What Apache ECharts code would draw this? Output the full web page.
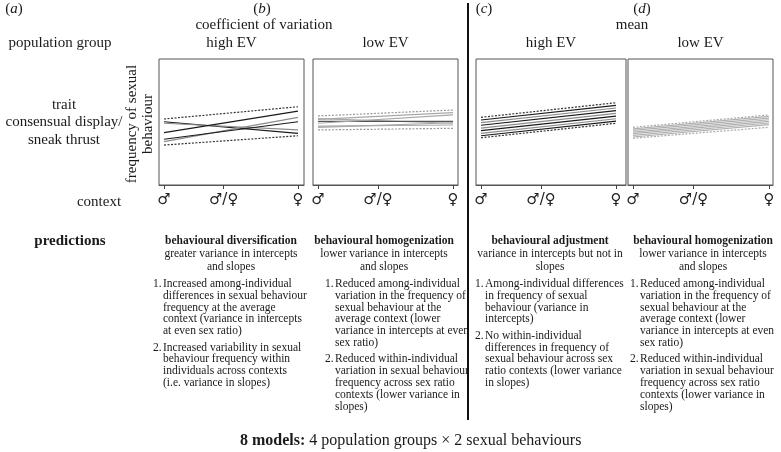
<!DOCTYPE html>
<html><head><meta charset="utf-8">
<script src="https://cdn.jsdelivr.net/npm/echarts@6/dist/echarts.min.js"></script>
<style>html,body{margin:0;padding:0;background:#fff}#c{width:781px;height:452px}</style>
</head><body><div id="c"></div>
<script>
// ---------- data ----------
const contexts = ['♂', '♂/♀', '♀'];
const contextValues = [0, 0.89, 2];
const panelLetters = ['a', 'b', 'c', 'd'];
const populationGroups = ['high EV', 'low EV', 'high EV', 'low EV'];
const measures = ['coefficient of variation', 'mean'];
const predictionTitles = ['behavioural diversification', 'behavioural homogenization', 'behavioural adjustment', 'behavioural homogenization'];
const predictionSubtitles = [
  ['greater variance in intercepts', 'and slopes'],
  ['lower variance in intercepts', 'and slopes'],
  ['variance in intercepts but not in', 'slopes'],
  ['lower variance in intercepts', 'and slopes']
];
const predictionItems = [
  [['Increased among-individual', 'differences in sexual behaviour', 'frequency at the average', 'context (variance in intercepts', 'at even sex ratio)'],
   ['Increased variability in sexual', 'behaviour frequency within', 'individuals across contexts', '(i.e. variance in slopes)']],
  [['Reduced among-individual', 'variation in the frequency of', 'sexual behaviour at the', 'average context (lower', 'variance in intercepts at even', 'sex ratio)'],
   ['Reduced within-individual', 'variation in sexual behaviour', 'frequency across sex ratio', 'contexts (lower variance in', 'slopes)']],
  [['Among-individual differences', 'in frequency of sexual', 'behaviour (variance in', 'intercepts)'],
   ['No within-individual', 'differences in frequency of', 'sexual behaviour across sex', 'ratio contexts (lower variance', 'in slopes)']],
  [['Reduced among-individual', 'variation in the frequency of', 'sexual behaviour at the', 'average context (lower', 'variance in intercepts at even', 'sex ratio)'],
   ['Reduced within-individual', 'variation in sexual behaviour', 'frequency across sex ratio', 'contexts (lower variance in', 'slopes)']]
];
// envelope lines [value at ♂, value at ♀]
const upperEnvelope = [[52.4, 62.1], [54.8, 59.5], [53.7, 65.3], [45.8, 55.6]];
const lowerEnvelope = [[31.7, 39.1], [43.7, 45.0], [37.5, 49.0], [37.1, 45.8]];
// individual reaction norms [value at ♂, value at ♀]
const panelAIndividuals = [[50.2, 41.0], [49.0, 43.7], [41.5, 58.7], [34.4, 53.7], [36.3, 50.2]];
const panelBIndividuals = [[52.6, 49.0], [50.5, 50.5], [52.1, 57.4], [49.0, 55.6], [46.8, 47.6], [45.8, 49.4]];
const panelCIndividuals = [[51.6, 63.2], [49.5, 61.1], [47.4, 59.0], [45.2, 56.8], [43.1, 54.7], [41.0, 52.6], [39.1, 50.7]];
const panelDIndividuals = [[44.6, 54.4], [43.3, 53.1], [42.0, 51.8], [40.7, 50.5], [39.4, 49.2], [38.1, 47.9]];
const individuals = [panelAIndividuals, panelBIndividuals, panelCIndividuals, panelDIndividuals];
const footerBold = '8 models:';
const footerText = ' 4 population groups × 2 sexual behaviours';

// ---------- layout / style ----------
const SERIF = '"Liberation Serif", "Times New Roman", serif';
const grids = [
  {left: 159, top: 59, width: 145, height: 126, min: -0.075, max: 2.09},
  {left: 313, top: 59, width: 145, height: 126, min: -0.074, max: 2.074},
  {left: 476, top: 59, width: 150, height: 126, min: -0.074, max: 2.148},
  {left: 628, top: 59, width: 145, height: 126, min: -0.074, max: 2.06}
];
const lineColors = [
  ['#1a1a1a', '#8c8c8c', '#1a1a1a', '#8c8c8c', '#1a1a1a'],
  ['#a8a8a8', '#555555', '#a8a8a8', '#a8a8a8', '#a8a8a8', '#a8a8a8'],
  ['#1a1a1a', '#8c8c8c', '#1a1a1a', '#8c8c8c', '#1a1a1a', '#8c8c8c', '#1a1a1a'],
  ['#b0b0b0', '#b0b0b0', '#b0b0b0', '#b0b0b0', '#b0b0b0', '#b0b0b0']
];
const envelopeColors = ['#333', '#999', '#333', '#aaa'];

const chart = echarts.init(document.getElementById('c'), null, {renderer: 'canvas'});
const series = [];
individuals.forEach((lines, p) => {
  const addLine = (pair, color, type, w) => series.push({
    type: 'line', xAxisIndex: p, yAxisIndex: p, symbol: 'none', silent: true, animation: false,
    data: [[contextValues[0], pair[0]], [contextValues[2], pair[1]]],
    lineStyle: {color: color, width: w, type: type}
  });
  lines.forEach((pair, i) => addLine(pair, lineColors[p][i], 'solid', 1.2));
  addLine(upperEnvelope[p], envelopeColors[p], [2, 1.5], 1.2);
  addLine(lowerEnvelope[p], envelopeColors[p], [2, 1.5], 1.2);
});

const labelMap = {};
contextValues.forEach((v, i) => labelMap[v] = contexts[i]);

const graphic = [];
function txt(text, x, y, opts) {
  graphic.push(Object.assign({type: 'text', x: x, y: y, silent: true,
    style: Object.assign({text: text, font: '15px ' + SERIF, fill: '#1a1a1a', textAlign: 'center', textVerticalAlign: 'middle'}, opts || {})}));
}
// panel letters
const letterPos = [[14, 9], [262, 9], [484, 9], [642, 9]];
panelLetters.forEach((l, i) => txt('({i|' + l + '})', letterPos[i][0], letterPos[i][1],
  {rich: {i: {fontStyle: 'italic', font: 'italic 15px ' + SERIF}}}));
txt(measures[0], 264, 25);
txt(measures[1], 632, 25);
txt('population group', 60, 43);
grids.forEach((g, i) => txt(populationGroups[i], g.left + g.width / 2, 43));
txt('trait', 64, 105);
txt('consensual display/', 64, 122);
txt('sneak thrust', 64, 140);
txt('context', 99, 202);
graphic.push({type: 'text', x: 140, y: 124, rotation: Math.PI / 2, silent: true,
  style: {text: 'frequency of sexual\nbehaviour', font: '15px ' + SERIF, fill: '#1a1a1a', textAlign: 'center', textVerticalAlign: 'middle', lineHeight: 16}});
txt('predictions', 70, 241, {font: 'bold 15px ' + SERIF});
// predictions columns
const colCenter = [231, 384, 550, 703];
const colNumX = [153, 325, 475, 630];
const F = '11.5px ' + SERIF;
predictionTitles.forEach((t, i) => {
  txt(t, colCenter[i], 241, {font: 'bold 11.5px ' + SERIF});
  predictionSubtitles[i].forEach((s, k) => txt(s, colCenter[i], 254 + k * 13, {font: F}));
  let y = 284;
  predictionItems[i].forEach((item, n) => {
    txt((n + 1) + '.', colNumX[i], y, {font: F, textAlign: 'left'});
    item.forEach((line, k) => { txt(line, colNumX[i] + 10, y, {font: F, textAlign: 'left'}); y += 11.8; });
    y += 4.5;
  });
});
// footer
txt('{b|' + footerBold + '}' + footerText, 240, 441, {textAlign: 'left', font: '16px ' + SERIF, rich: {b: {font: 'bold 16px ' + SERIF}}});
// divider
graphic.push({type: 'line', silent: true, shape: {x1: 468, y1: 3, x2: 468, y2: 420}, style: {stroke: '#111', lineWidth: 2}});

chart.setOption({
  animation: false,
  grid: grids.map(g => ({left: g.left, top: g.top, width: g.width, height: g.height, show: true, borderColor: '#555', borderWidth: 1, backgroundColor: 'transparent'})),
  xAxis: grids.map((g, i) => ({
    type: 'value', gridIndex: i, min: g.min, max: g.max,
    axisLine: {show: true, lineStyle: {color: '#555'}},
    splitLine: {show: false},
    axisTick: {show: true, inside: false, length: 4, customValues: contextValues, lineStyle: {color: '#444'}},
    axisLabel: {show: true, customValues: contextValues, margin: 8, fontFamily: 'DejaVu Sans', fontSize: 15, color: '#222',
      formatter: v => labelMap[v] !== undefined ? labelMap[v] : ''}
  })),
  yAxis: grids.map((g, i) => ({
    type: 'value', gridIndex: i, min: 0, max: 100,
    axisLine: {show: false}, axisTick: {show: false}, axisLabel: {show: false}, splitLine: {show: false}
  })),
  series: series,
  graphic: graphic
});
</script></body></html>
